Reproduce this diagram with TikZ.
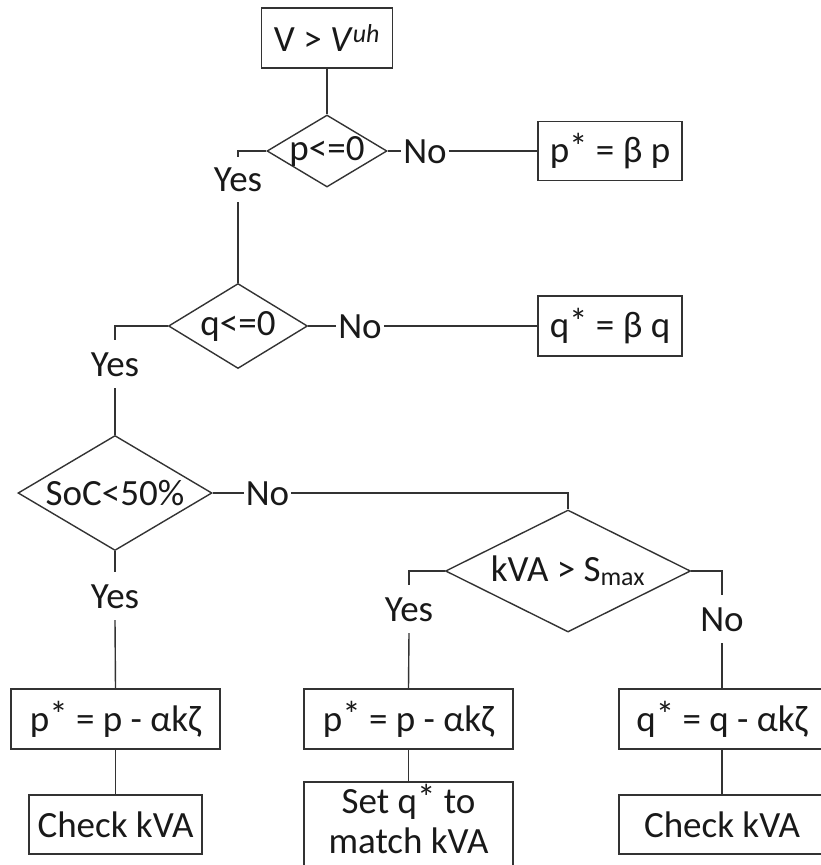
\documentclass[tikz,border=0pt]{standalone}
\usepackage{fontspec}
\setmainfont{Carlito}
\usetikzlibrary{shapes.geometric}
% slightly raised asterisk, as in p*
\newcommand\astr{\raisebox{0.1em}{*}}
\begin{document}
\begin{tikzpicture}[x=1pt,y=-1pt,
  every node/.style={font=\fontsize{37}{42}\selectfont, text=black!90},
  link/.style={draw=black!80, line width=1.4pt},
  box/.style={draw=black!80, line width=1.4pt, rectangle, inner sep=0pt},
  dia/.style={draw=black!80, line width=1.4pt, diamond, inner sep=0pt},
  lbl/.style={inner xsep=2pt, inner ysep=12pt, text height=24pt, text depth=0pt}]
\useasboundingbox (0,0) rectangle (821,865);

% decisions and actions
\node[box, minimum width=131pt, minimum height=60pt] (start) at (327,38)
  {V > \textit{V}\textsuperscript{\textit{uh}}};
\node[dia, minimum width=120pt, minimum height=72pt, label=center:{p<=0}] (pd) at (327,151) {};
\node[box, minimum width=144pt, minimum height=59pt] (pb) at (610,151) {p\astr{} = β p};
\node[dia, minimum width=139pt, minimum height=85pt, label=center:{q<=0}] (qd) at (238,326) {};
\node[box, minimum width=144pt, minimum height=60pt] (qb) at (610,326) {q\astr{} = β q};
\node[dia, minimum width=194pt, minimum height=115pt, label=center:{SoC<50\%}] (sd) at (115,493) {};
\node[dia, minimum width=245pt, minimum height=122pt, label=center:{kVA > S\textsubscript{max}}] (kd) at (568,571) {};

\node[box, minimum width=209pt, minimum height=60pt] (b1) at (115.5,719) {p\astr{} = p - αkζ};
\node[box, minimum width=173pt, minimum height=59pt] (c1) at (115.5,824.5) {Check kVA};
\node[box, minimum width=209pt, minimum height=60pt] (b2) at (408.5,719) {p\astr{} = p - αkζ};
\node[box, minimum width=209pt, minimum height=90pt,
  label={[align=center, font=\fontsize{37}{40}\selectfont, yshift=8pt]center:{Set q\astr{} to\\match kVA}}] (c2) at (408.5,827) {};
\node[box, minimum width=206pt, minimum height=60pt] (b3) at (722,719) {q\astr{} = q - αkζ};
\node[box, minimum width=206pt, minimum height=59pt] (c3) at (722,824.5) {Check kVA};

% branch labels
\node[lbl, inner ysep=10.5pt] (y1) at (238,179.5) {Yes};
\node[lbl] (n1) at (425,151) {No};
\node[lbl] (y2) at (115,364) {Yes};
\node[lbl] (n2) at (360,326) {No};
\node[lbl] (y3) at (115,596) {Yes};
\node[lbl] (n3) at (267.5,493) {No};
\node[lbl] (y4) at (409,609) {Yes};
\node[lbl] (n4) at (722,619) {No};

% connectors
\draw[link] (start.south) -- (pd.north);
\draw[link] (pd.west) -| (y1.north);
\draw[link] (y1.south) -- (qd.north);
\draw[link] (pd.east) -- (n1.west);
\draw[link] (n1.east) -- (pb.west);
\draw[link] (qd.west) -| (y2.north);
\draw[link] (y2.south) -- (sd.north);
\draw[link] (qd.east) -- (n2.west);
\draw[link] (n2.east) -- (qb.west);
\draw[link] (sd.south) -- (y3.north);
\draw[link] (y3.south) -- (b1.north);
\draw[link] (sd.east) -- (n3.west);
\draw[link] (n3.east) -| (kd.north);
\draw[link] (kd.west) -| (y4.north);
\draw[link] (y4.south) -- (b2.north);
\draw[link] (kd.east) -| (n4.north);
\draw[link] (n4.south) -- (b3.north);
\draw[link] (b1.south) -- (c1.north);
\draw[link] (b2.south) -- (c2.north);
\draw[link] (b3.south) -- (c3.north);
\end{tikzpicture}
\end{document}
